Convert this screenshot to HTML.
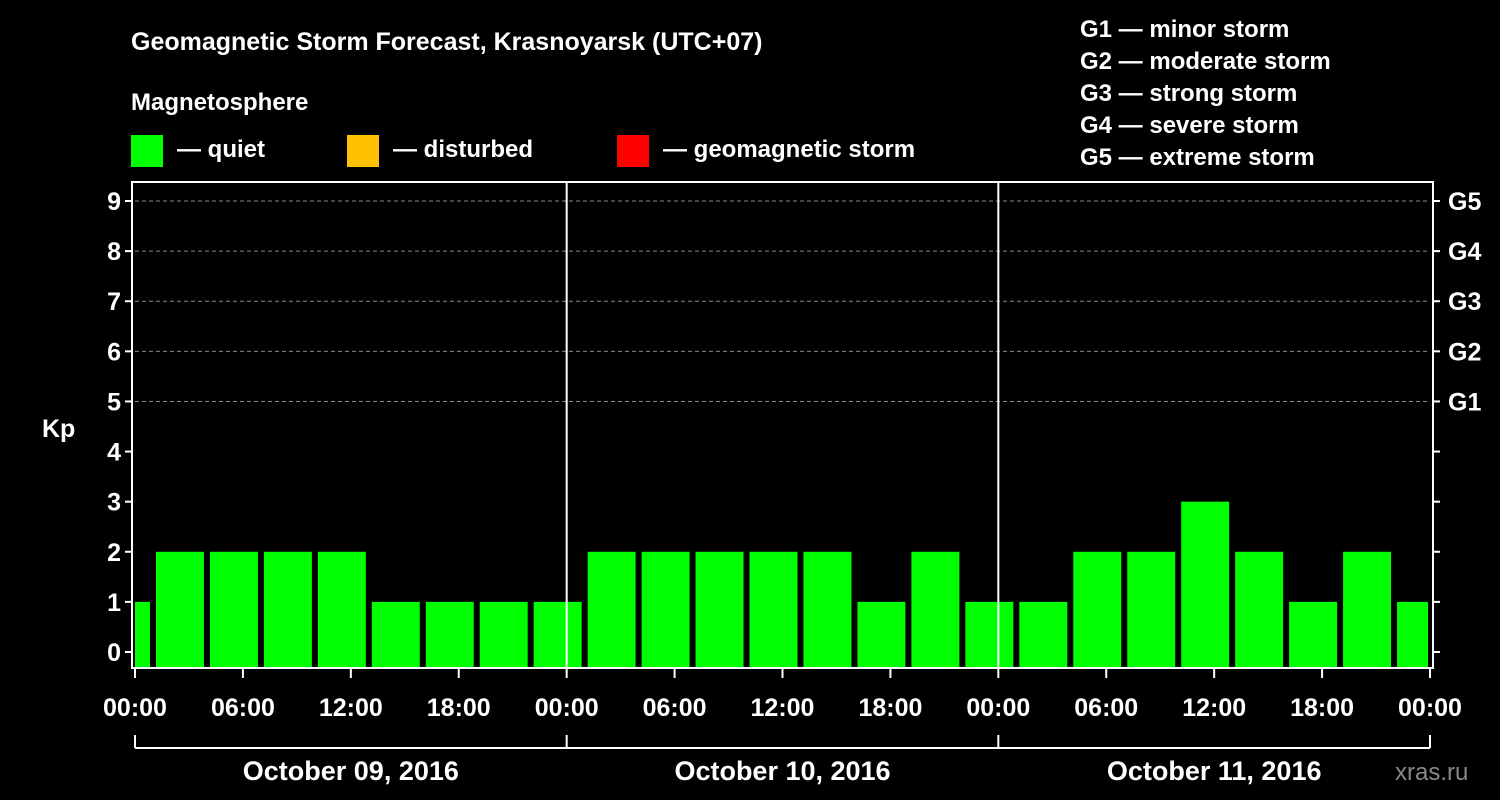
<!DOCTYPE html>
<html><head><meta charset="utf-8"><style>
html,body{margin:0;padding:0;background:#000;}
svg{display:block;font-family:"Liberation Sans",sans-serif;font-weight:bold;}
</style></head><body>
<svg id="chart" width="1500" height="800" viewBox="0 0 1500 800">
<rect width="1500" height="800" fill="#000"/>
<text x="131" y="50" fill="#fff" font-size="25">Geomagnetic Storm Forecast, Krasnoyarsk (UTC+07)</text>
<text x="131" y="110" fill="#fff" font-size="24">Magnetosphere</text>
<g><rect x="131" y="135" width="32" height="32" fill="#00ff00"/><text x="177" y="157" fill="#fff" font-size="24">— quiet</text></g>
<g><rect x="347" y="135" width="32" height="32" fill="#ffc000"/><text x="393" y="157" fill="#fff" font-size="24">— disturbed</text></g>
<g><rect x="617" y="135" width="32" height="32" fill="#ff0000"/><text x="663" y="157" fill="#fff" font-size="24">— geomagnetic storm</text></g>
<g fill="#fff" font-size="24">
<text x="1080" y="37">G1 — minor storm</text>
<text x="1080" y="69">G2 — moderate storm</text>
<text x="1080" y="101">G3 — strong storm</text>
<text x="1080" y="133">G4 — severe storm</text>
<text x="1080" y="165">G5 — extreme storm</text>
</g>
<text x="42" y="437" fill="#fff" font-size="25">Kp</text>
<g id="grid"></g>
<g id="bars"></g>
<g id="axes"></g>
<text x="1395" y="780" fill="#888" font-size="24" font-weight="normal">xras.ru</text>
</svg>
<script>
const dayLabels = ["October 09, 2016","October 10, 2016","October 11, 2016"];
const kpValues = [1, 2,2,2,2,1,1,1,1, 2,2,2,2,2,1,2,1, 1,2,2,3,2,1,2,1];
const barStartHours = [-2, 1,4,7,10,13,16,19,22, 25,28,31,34,37,40,43,46, 49,52,55,58,61,64,67,70];
const yTicks = [0,1,2,3,4,5,6,7,8,9];
const gLabels = {5:"G1",6:"G2",7:"G3",8:"G4",9:"G5"};
const xTickLabels = ["00:00","06:00","12:00","18:00"];

const NS="http://www.w3.org/2000/svg";
const X0=135, X1=1430, PT=182, PB=668;
const hourPx=(X1-X0)/72;
const xs=h=>X0+h*hourPx;
const ys=v=>652-v*(652-201)/9;
function mk(tag,attrs,parent,text){const e=document.createElementNS(NS,tag);for(const k in attrs)e.setAttribute(k,attrs[k]);if(text!==undefined)e.textContent=text;parent.appendChild(e);return e;}
const grid=document.getElementById('grid'),bars=document.getElementById('bars'),axes=document.getElementById('axes');

yTicks.forEach(v=>{
  if(gLabels[v]){const l=mk('line',{x1:X0,x2:X1,y1:ys(v),y2:ys(v),stroke:'#888','stroke-dasharray':'4,3','stroke-width':1},grid);
  
  }
});
kpValues.forEach((v,i)=>{
  const a=Math.max(X0,xs(barStartHours[i])+3), b=Math.min(X1-2,xs(barStartHours[i]+3)-3);
  const color=v>=5?'#ff0000':(v>=4?'#ffc000':'#00ff00');
  const r=mk('rect',{x:a,y:ys(v),width:b-a,height:PB-ys(v),fill:color},bars);
  
  
});
const frame=mk('rect',{x:X0-3,y:PT,width:X1-X0+6,height:PB-PT,fill:'none',stroke:'#fff','stroke-width':2},axes);


for(let d=1;d<3;d++){const l=mk('line',{x1:xs(d*24),x2:xs(d*24),y1:PT,y2:PB,stroke:'#fff','stroke-width':2},axes);
  
  }
yTicks.forEach(v=>{
  mk('line',{x1:X0-10,x2:X0-3,y1:ys(v),y2:ys(v),stroke:'#fff','stroke-width':2},axes);
  mk('line',{x1:X1+3,x2:X1+10,y1:ys(v),y2:ys(v),stroke:'#fff','stroke-width':2},axes);
  const t=mk('text',{x:X0-14,y:ys(v)+9,fill:'#fff','font-size':25,'text-anchor':'end'},axes,String(v));
  
  
  if(gLabels[v]){const g=mk('text',{x:1448,y:ys(v)+9,fill:'#fff','font-size':25},axes,gLabels[v]);
  
  }
});
for(let h=0;h<=72;h+=6){
  const x=xs(h);
  mk('line',{x1:x,x2:x,y1:PB,y2:PB+10,stroke:'#fff','stroke-width':2},axes);
  const t=mk('text',{x:x,y:716,fill:'#fff','font-size':25,'text-anchor':'middle'},axes,xTickLabels[(h/6)%4]);
  
  
}
mk('line',{x1:X0,x2:X1,y1:748,y2:748,stroke:'#fff','stroke-width':2},axes);
for(let d=0;d<=3;d++){mk('line',{x1:xs(d*24),x2:xs(d*24),y1:735,y2:748,stroke:'#fff','stroke-width':2},axes);}
dayLabels.forEach((s,d)=>{
  const t=mk('text',{x:xs(d*24+12),y:780,fill:'#fff','font-size':27,'text-anchor':'middle'},axes,s);
  
  
});
</script>
</body></html>
